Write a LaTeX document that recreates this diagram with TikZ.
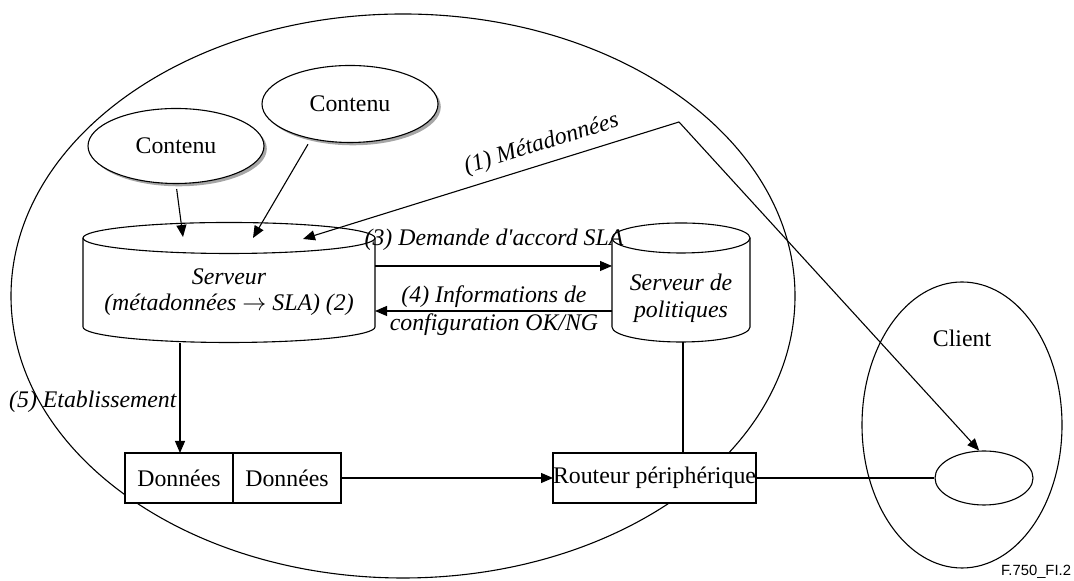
\documentclass[tikz,border=0pt]{standalone}
\usepackage{fontspec}
\setmainfont{Liberation Serif}
\newfontfamily\tagfont{Liberation Sans}
\usepackage{tikz}
\usetikzlibrary{calc}
\usetikzlibrary{positioning}
\usetikzlibrary{shapes.geometric}
\usetikzlibrary{shadows}
\usetikzlibrary{arrows.meta}

\begin{document}
\fontsize{11.9}{14}\selectfont
\begin{tikzpicture}[x=0.5pt, y=0.5pt, line width=0.55pt,
    box/.style={rectangle, draw=black, fill=white, minimum height=25pt, inner sep=0pt, outer sep=0pt},
    src/.style={ellipse, draw=black, fill=white, inner sep=0pt, minimum width=88pt,
        drop shadow={shadow xshift=1.4pt, shadow yshift=-1.4pt, fill=black!35, opacity=1}},
    oval/.style={ellipse, draw=black, inner sep=0pt},
    arr/.style={-{Triangle[length=6pt, width=5pt]}}]
            \useasboundingbox (0,0) rectangle (1074,581);
            \draw (403,285) ellipse [x radius=196pt, y radius=141pt];

            \node[src, minimum height=37.5pt] (contL) at (176,435) {Contenu};
            \node[src, minimum height=38.5pt] (contR) at (350,477) {Contenu};

            \node[font=\fontsize{11.9}{13}\selectfont\itshape, align=center] (srv) at (229,289) {Serveur\\(métadonnées $\rightarrow$ SLA) (2)};
            \draw (83,343) -- (83,254) arc[start angle=180, end angle=360, x radius=73pt, y radius=7.75pt] -- (375,343);
            \draw (229,343) ellipse [x radius=73pt, y radius=7.75pt];

            \node[font=\fontsize{11.9}{13.5}\selectfont\itshape, align=center] (pol) at (681,283) {Serveur de\\politiques};
            \draw (612,343) -- (612,254) arc[start angle=180, end angle=360, x radius=34.5pt, y radius=7.5pt] -- (750,343);
            \draw (681,343) ellipse [x radius=34.5pt, y radius=7.5pt];

            \coordinate (srvA) at (183,344);
            \coordinate (srvB) at (253,343);
            \coordinate (srvC) at (303,342);
            \coordinate (srvbot) at (180,238);
            \coordinate (polbot) at (683,239);
            \coordinate (meta) at (679,459);
            \coordinate (s3) at (375,315);
            \coordinate (p3) at (612,315);
            \coordinate (p4) at (612,270);
            \coordinate (s4) at (375,270);

            \node[box, minimum width=54pt] (d1) at (179,103) {Données};
            \node[box, minimum width=54pt, right=0pt of d1] (d2) {Données};
            \node[box, minimum width=101.5pt] (rout) at (654.5,103) {Routeur périphérique};

            \node[oval, minimum width=100pt, minimum height=143pt] (client) at (962,156) {};
            \node (clientlbl) at (962,243) {Client};
            \node[oval, minimum width=49pt, minimum height=27pt] (term) at (984,103) {};

            \draw[arr, shorten <=2.5pt] (contL.south) -- (srvA);
            \draw[arr, shorten <=3pt] (contR.222) -- (srvB);
            \draw[arr] (meta) -- node[sloped, above, pos=0.35, font=\itshape] (lbl1) {(1) Métadonnées} (srvC);
            \draw[arr] (meta) -- (term.100);

            \draw[arr] (s3) -- (p3);
            \node[font=\itshape] (lbl3) at (494,341) {(3) Demande d\textquotesingle accord SLA};
            \draw[arr] (p4) -- (s4);
            \node[font=\itshape, align=center] (lbl4) at (494,270) {(4) Informations de\\configuration OK/NG};

            \draw[arr] (srvbot) -- (srvbot |- d1.north);
            \node[font=\itshape, anchor=east, inner sep=1pt] (lbl5) at (179,179) {(5) Etablissement};
            \draw (polbot) -- (polbot |- rout.north);
            \draw[arr] (d2) -- (rout);
            \draw (rout) -- (term);

            \node[font=\tagfont\fontsize{7.4}{9}\selectfont] (tag) at (1036,9) {F.750\_FI.2};
        \end{tikzpicture}
\end{document}
